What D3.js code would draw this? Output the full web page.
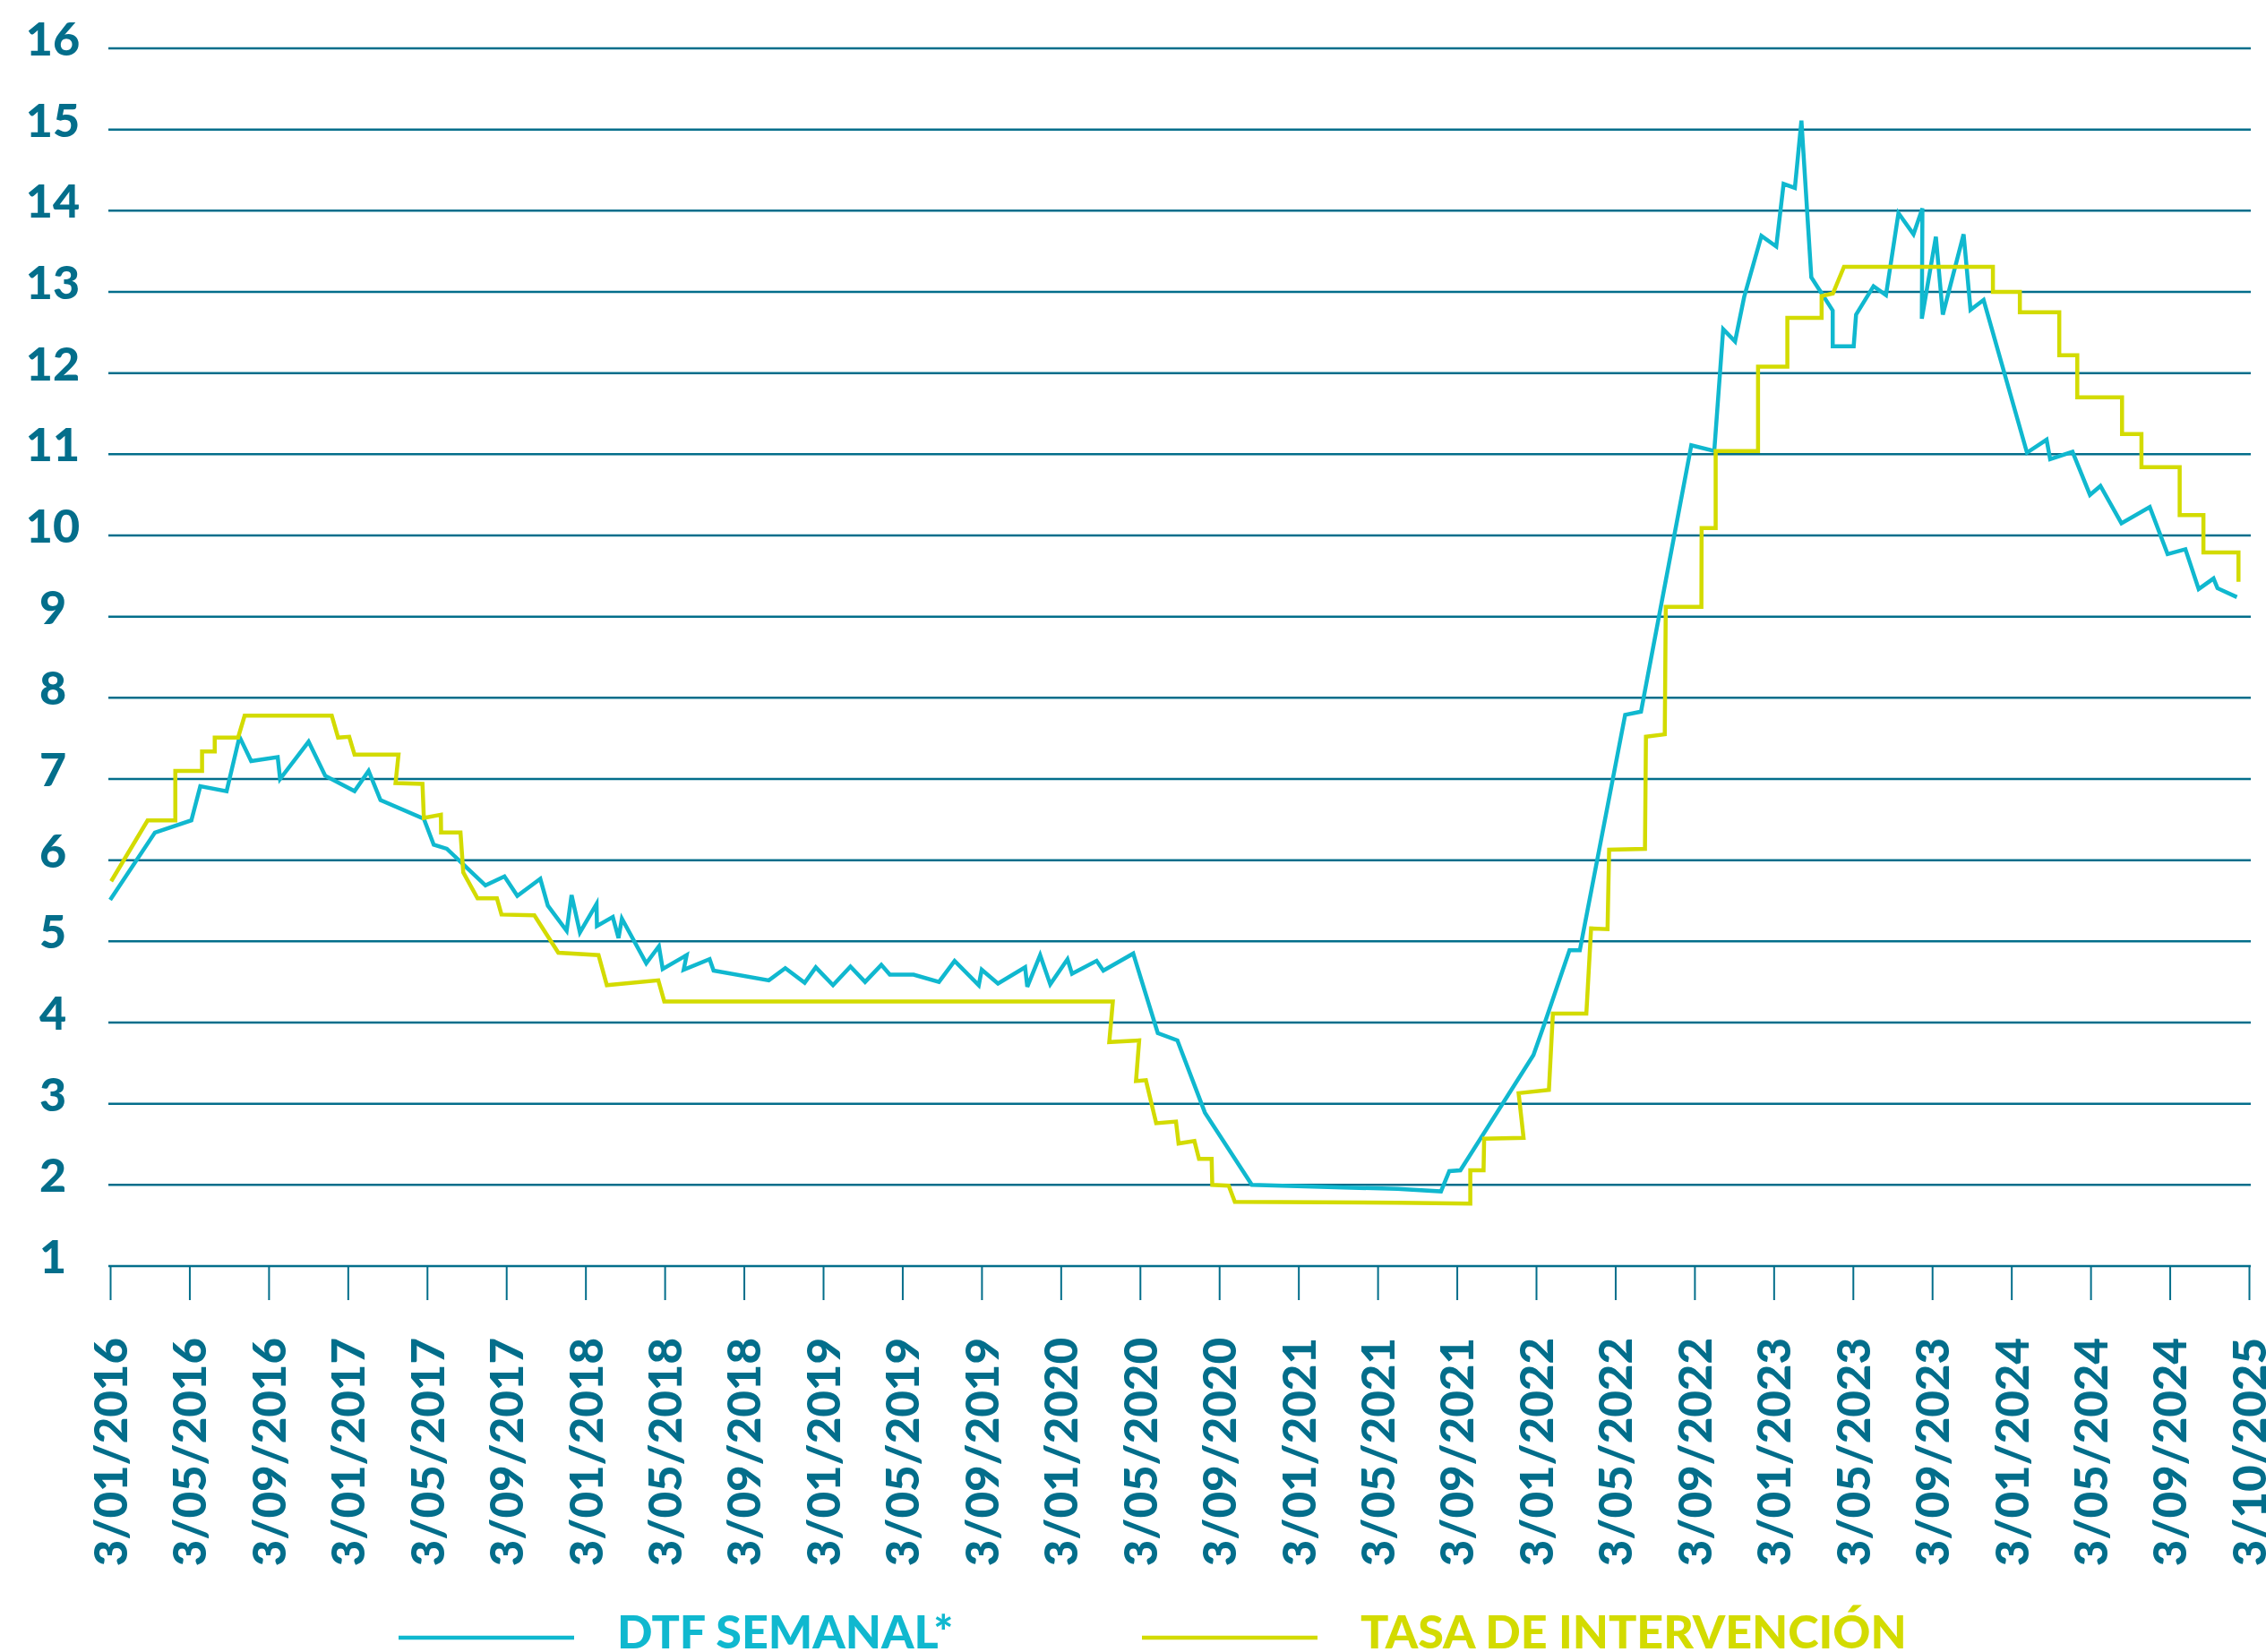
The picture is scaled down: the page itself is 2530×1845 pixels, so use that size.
<!DOCTYPE html>
<html>
<head>
<meta charset="utf-8">
<script src="https://cdn.jsdelivr.net/npm/d3@7"></script>
<style>
  body { margin: 0; background: #fff; }
  svg text { font-family: Lato, "DejaVu Sans", sans-serif; font-weight: 900; }
</style>
</head>
<body>
<div id="chart"></div>
<script>
// tick labels along the bottom, one every 4 months
var xLabels = ["3/01/2016","3/05/2016","3/09/2016","3/01/2017","3/05/2017","3/09/2017",
  "3/01/2018","3/05/2018","3/09/2018","3/01/2019","3/05/2019","3/09/2019",
  "3/01/2020","3/05/2020","3/09/2020","3/01/2021","3/05/2021","3/09/2021",
  "3/01/2022","3/05/2022","3/09/2022","3/01/2023","3/05/2023","3/09/2023",
  "3/01/2024","3/05/2024","3/09/2024","3/10/2025"];
var yTicks = d3.range(1, 17);

// [months since jan 2016, rate %]
var dtf = [[0,5.51],[2.26,6.34],[4.1,6.49],[4.55,6.91],[5.88,6.85],[6.53,7.52],[7.12,7.22],
  [8.46,7.27],[8.58,7.0],[10.02,7.46],[10.86,7.04],[12.34,6.85],[13.05,7.1],[13.65,6.74],
  [15.84,6.51],[16.34,6.19],[17.0,6.14],[18.95,5.69],[19.91,5.8],[20.56,5.56],[21.72,5.77],
  [22.1,5.44],[23.05,5.13],[23.3,5.57],[23.72,5.11],[24.56,5.46],[24.58,5.19],[25.38,5.3],
  [25.67,5.04],[25.84,5.28],[27.07,4.73],[27.71,4.94],[27.9,4.66],[29.11,4.83],[28.96,4.65],
  [30.27,4.78],[30.47,4.64],[33.26,4.52],[34.09,4.67],[35.07,4.49],[35.63,4.68],[36.5,4.46],
  [37.38,4.69],[38.12,4.5],[38.94,4.71],[39.37,4.59],[40.57,4.59],[41.85,4.5],[42.64,4.76],
  [43.86,4.46],[44.01,4.65],[44.83,4.48],[46.2,4.68],[46.31,4.44],[46.96,4.83],[47.47,4.47],
  [48.34,4.78],[48.57,4.6],[49.81,4.76],[50.15,4.64],[51.66,4.85],[52.9,3.87],[53.89,3.78],
  [55.28,2.89],[57.65,2.0],[65.01,1.95],[67.2,1.92],[67.62,2.17],[68.18,2.18],[71.87,3.6],
  [72.43,3.99],[73.69,4.89],[74.21,4.89],[76.5,7.79],[77.3,7.83],[79.84,11.11],[81.0,11.04],
  [81.45,12.54],[82.05,12.39],[82.51,12.94],[83.38,13.69],[84.13,13.56],[84.5,14.33],
  [85.07,14.28],[85.4,15.11],[85.9,13.18],[86.98,12.77],[86.98,12.33],[88.04,12.33],
  [88.16,12.72],[89.04,13.07],[89.67,12.96],[90.3,13.97],[91.06,13.71],[91.51,14.03],
  [91.48,12.67],[92.19,13.68],[92.54,12.72],[93.59,13.71],[93.94,12.78],[94.6,12.9],
  [96.79,11.02],[97.78,11.18],[97.96,10.94],[99.09,11.03],[99.97,10.5],[100.5,10.61],
  [101.56,10.15],[102.99,10.35],[103.89,9.77],[104.79,9.83],[105.46,9.34],[106.21,9.47],
  [106.41,9.35],[107.39,9.24]];

var tasa = [[0.05,5.74],[1.89,6.49],[3.29,6.49],[3.29,7.1],[4.64,7.1],[4.64,7.34],[5.28,7.34],
  [5.28,7.51],[6.46,7.51],[6.79,7.78],[11.19,7.78],[11.51,7.51],[12.07,7.52],[12.34,7.3],
  [14.56,7.3],[14.41,6.95],[15.77,6.94],[15.84,6.52],[16.7,6.56],[16.71,6.34],[17.69,6.34],
  [17.83,5.85],[18.55,5.53],[19.53,5.53],[19.76,5.33],[21.42,5.32],[22.63,4.86],[24.66,4.83],
  [25.08,4.46],[27.68,4.52],[27.98,4.26],[50.63,4.26],[50.45,3.76],[51.96,3.78],[51.8,3.28],
  [52.3,3.29],[52.82,2.76],[53.82,2.78],[53.95,2.51],[54.75,2.54],[54.98,2.32],[55.62,2.32],
  [55.65,2.0],[56.48,1.99],[56.79,1.79],[65.01,1.78],[68.68,1.77],[68.68,2.18],[69.35,2.18],
  [69.38,2.57],[71.37,2.58],[71.12,3.13],[72.65,3.17],[72.85,4.11],[74.54,4.11],[74.78,5.16],
  [75.61,5.15],[75.69,6.13],[77.5,6.14],[77.55,7.52],[78.5,7.55],[78.55,9.12],[80.35,9.12],
  [80.36,10.09],[81.07,10.09],[81.07,11.04],[83.21,11.04],[83.21,12.08],[84.69,12.08],
  [84.69,12.68],[86.42,12.68],[86.42,12.95],[86.99,12.98],[87.55,13.31],[95.07,13.31],
  [95.07,13.0],[96.43,13.0],[96.43,12.75],[98.42,12.75],[98.42,12.22],[99.33,12.22],
  [99.33,11.7],[101.59,11.7],[101.59,11.25],[102.57,11.25],[102.57,10.84],[104.5,10.84],
  [104.5,10.25],[105.7,10.25],[105.7,9.79],[107.47,9.79],[107.47,9.43]];

var series = [
  {name: "DTF SEMANAL*", color: "#10b8cf", data: dtf},
  {name: "TASA DE INTERVENCIÓN", color: "#d3db00", data: tasa}
];

var width = 2530, height = 1845;
var axisColor = "#036e8b";

var svg = d3.select("#chart").append("svg")
    .attr("width", width)
    .attr("height", height);

var x = d3.scaleLinear().domain([0, 108]).range([123, 2511]);
var y = d3.scaleLinear().domain([1, 16]).range([1414, 54]);

// horizontal grid lines
svg.append("g").selectAll("line")
    .data(yTicks)
    .enter().append("line")
    .attr("x1", 121).attr("x2", 2513)
    .attr("y1", d => y(d)).attr("y2", d => y(d))
    .attr("stroke", axisColor)
    .attr("stroke-width", 2.5);

// y labels
svg.append("g").selectAll("text")
    .data(yTicks)
    .enter().append("text")
    .attr("x", 59)
    .attr("y", d => y(d) + 8)
    .attr("text-anchor", "middle")
    .attr("font-size", 52)
    .attr("fill", axisColor)
    .text(d => d);

// x axis ticks + rotated labels
var xAxis = d3.axisBottom(x)
    .tickValues(xLabels.map((d, i) => i * 4))
    .tickFormat((d, i) => xLabels[i])
    .tickSize(38)
    .tickSizeOuter(0);

var gx = svg.append("g")
    .attr("transform", "translate(0," + y(1) + ")")
    .call(xAxis);
gx.select(".domain").remove();
gx.selectAll(".tick line").attr("stroke", axisColor).attr("stroke-width", 2);
gx.selectAll(".tick text")
    .attr("font-size", 51)
    .attr("font-family", null)
    .attr("fill", axisColor)
    .attr("transform", "rotate(-90)")
    .attr("text-anchor", "end")
    .attr("x", -80)
    .attr("y", 0)
    .attr("dy", "0.36em");

// lines
var line = d3.line()
    .x(d => x(d[0]))
    .y(d => y(d[1]));

svg.append("g").selectAll("path")
    .data(series)
    .enter().append("path")
    .attr("d", d => line(d.data))
    .attr("fill", "none")
    .attr("stroke", d => d.color)
    .attr("stroke-width", 4.5)
    .attr("stroke-linejoin", "miter");

// legend
var legendX = [445, 1275];
var legend = svg.append("g").selectAll("g")
    .data(series)
    .enter().append("g")
    .attr("transform", (d, i) => "translate(" + legendX[i] + ",1829)");
legend.append("line")
    .attr("x1", 0).attr("x2", 196)
    .attr("stroke", d => d.color)
    .attr("stroke-width", 4.5);
legend.append("text")
    .attr("x", 244)
    .attr("y", 12)
    .attr("font-size", 52)
    .attr("fill", d => d.color)
    .text(d => d.name);
</script>
</body>
</html>
